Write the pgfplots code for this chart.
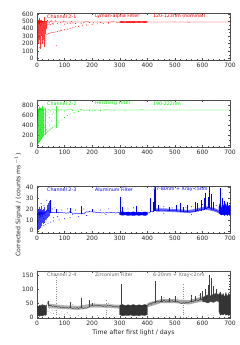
\documentclass[border=0pt]{standalone}
\usepackage{fontspec}
\setmainfont{DejaVu Sans}
\usepackage{pgfplots}
\pgfplotsset{compat=1.18}
\definecolor{idlred}{RGB}{255,0,0}
\definecolor{idlgreen}{RGB}{0,235,0}
\definecolor{idlblue}{RGB}{0,0,255}
\pgfplotsset{
  idl/.style={
    scale only axis, width=193pt, height=47pt,
    xmin=0, xmax=700, xtick={0,100,...,700}, minor x tick num=4,
    axis line style={black!70, line width=0.4pt},
    tick style={black!70, line width=0.3pt},
    major tick length=2.2pt, minor tick length=1.3pt,
    ticklabel style={font=\fontsize{6}{7}\selectfont, text=black!85},
    /pgf/number format/assume math mode=true,
    unbounded coords=jump, clip=true,
    every axis plot/.append style={line width=0.3pt},
  },
  dots/.style={only marks, mark=*, mark size=0.22pt},
  spikes/.style={line width=0.15pt, draw opacity=0.75},
}
\tikzset{intext/.style={anchor=west, font=\fontsize{4.8}{5}\selectfont, inner sep=0pt}}
\begin{document}
\begin{tikzpicture}
\useasboundingbox (0,0) rectangle (240pt,345pt);
% ---------------- Panel 1 ----------------
\begin{axis}[idl, at={(37pt,285pt)}, anchor=south west,
  ymin=-22, ymax=612, ytick={0,100,...,600}, minor y tick num=1]
\addplot[idlred, fill=idlred, draw=idlred] coordinates {(300,497)(310,500)(320,496)(330,500)(340,497)(350,500)(360,496)(370,500)(380,497)(390,500)(400,496)(400,484)(390,482)(380,485)(370,482)(360,485)(350,482)(340,484)(330,481)(320,485)(310,482)(300,486)} -- cycle;
\addplot[idlred] coordinates {(0,0)(1,60)(2,180)(3,330)(4,450)(5,500)(6,470)(7,520)(8,480)(9,510)(10,470)(11,500)(12,485)(14,505)(16,480)(18,500)(20,490)(22,505)(25,485)(28,500)(30,490)(35,495)(40,490)(50,496)(60,490)(70,494)(80,490)(100,493)(120,489)(140,492)(160,490)(180,493)(200,490)(220,492)(250,490)(280,493)(300,488)(400,490)(420,491)(450,490)(500,492)(550,489)(600,491)(650,490)(700,491)};
\addplot[idlred, spikes] coordinates {(2,100)(2,480)(2,nan)(4,200)(4,520)(4,nan)(6,250)(6,540)(6,nan)(8,300)(8,530)(8,nan)(10,220)(10,520)(10,nan)(12,130)(12,490)(12,nan)(14,300)(14,520)(14,nan)(16,350)(16,510)(16,nan)(18,280)(18,505)(18,nan)(20,200)(20,490)(20,nan)(22,250)(22,500)(22,nan)(24,300)(24,510)(24,nan)(27,150)(27,560)(27,nan)(30,330)(30,500)(30,nan)(34,400)(34,500)};
\addplot[idlred] coordinates {(35,320)(40,332)(45,338)(50,344)(55,348)(60,352)(65,355)(70,358)};
\addplot[idlred, dots] coordinates {(75,362)(80,368)(85,372)(90,378)(100,385)(110,395)(120,405)(130,415)(140,425)(150,432)(165,440)(180,450)(200,458)(220,465)(240,470)(260,475)(70,170)(15,450)(25,470)(45,480)(55,470)(85,480)(110,475)(140,470)(170,480)(205,478)(230,485)(260,482)(290,485)(330,480)(20,380)(22,300)(18,250)(12,200)(8,150)(25,420)(30,440)(40,460)(50,455)(60,465)(75,470)(100,462)(120,470)(130,478)(160,472)(190,484)(38,510)(52,505)(66,508)(95,503)(125,500)(3,250)(5,350)(7,420)(9,300)(11,380)(13,440)(15,330)(17,400)};
\node[intext, text=idlred] at (rel axis cs:0.052,0.93) {Channel 2-1};
\node[intext, text=idlred] at (rel axis cs:0.30,0.93) {Lyman-alpha Filter};
\node[intext, text=idlred] at (rel axis cs:0.60,0.93) {120-123nm (nominal)};
\end{axis}
% ---------------- Panel 2 ----------------
\begin{axis}[idl, at={(37pt,198pt)}, anchor=south west,
  ymin=-40, ymax=900, ytick={0,200,...,800}, minor y tick num=1]
\addplot[idlgreen] coordinates {(0,0)(1,100)(2,250)(3,420)(4,580)(5,700)(6,660)(7,740)(8,690)(9,720)(10,700)(12,730)(14,690)(16,715)(18,700)(20,720)(22,690)(25,710)(28,700)(30,705)(35,698)(40,703)(50,700)(60,705)(70,698)(80,704)(100,700)(120,705)(140,698)(160,703)(180,697)(200,702)(220,698)(250,703)(280,697)(300,702)(320,697)(340,702)(360,698)(380,703)(400,699)(450,702)(500,700)(550,701)(600,699)(650,701)(700,700)};
\addplot[idlgreen, spikes] coordinates {(3,30)(3,720)(3,nan)(7,60)(7,750)(7,nan)(11,90)(11,730)(11,nan)(15,120)(15,740)(15,nan)(19,150)(19,750)(19,nan)(23,180)(23,720)(23,nan)(28,200)(28,745)(28,nan)(70,330)(70,770)};
\addplot[idlgreen] coordinates {(0,0)(5,40)(10,80)(15,120)(20,160)(25,200)(30,220)(34,240)(38,262)(42,282)(46,300)(50,320)(55,340)(60,360)};
\addplot[idlgreen, dots] coordinates {(65,380)(70,400)(80,450)(90,500)(100,550)(110,590)(120,620)(135,650)(150,670)(170,685)(190,690)(210,695)(5,300)(8,500)(12,400)(15,600)(18,350)(22,550)(25,450)(28,620)(32,500)(36,600)(40,650)(45,550)(50,680)(55,620)(60,660)(80,690)(100,680)(130,690)(160,710)(200,680)(230,690)(3,800)(10,780)(20,770)(9,200)(13,300)(17,250)(21,420)(26,350)(31,400)(35,300)(40,450)(45,400)(52,480)};
\node[intext, text=idlgreen] at (rel axis cs:0.052,0.93) {Channel 2-2};
\node[intext, text=idlgreen] at (rel axis cs:0.30,0.93) {Herzberg Filter};
\node[intext, text=idlgreen] at (rel axis cs:0.60,0.93) {190-222nm};
\end{axis}
% ---------------- Panel 3 ----------------
\begin{axis}[idl, at={(37pt,112pt)}, anchor=south west,
  ymin=-2, ymax=41, ytick={0,10,...,40}, minor y tick num=1]
\addplot[idlblue, fill=idlblue] coordinates {(300,17)(310,17.5)(320,16.8)(330,17.3)(340,16.9)(350,17.4)(360,16.8)(370,17.2)(380,16.9)(390,17.3)(400,17)(400,14.5)(390,14)(380,14.6)(370,14.1)(360,14.5)(350,14)(340,14.4)(330,14.1)(320,14.6)(310,14.2)(300,14.8)} -- cycle;
\addplot[idlblue, fill=idlblue] coordinates {(660,22)(665,26)(670,20)(675,24)(680,21)(685,25)(690,20)(695,23)(700,21)(700,14)(695,15)(690,14)(685,15.5)(680,14)(675,15)(670,14.5)(665,15)(660,16)} -- cycle;
\addplot[idlblue!55, fill=idlblue!55, draw=none] coordinates {(430,20.5)(460,20.6)(490,20)(520,19.6)(550,19)(580,20.5)(610,22.5)(640,21.2)(660,19)(660,16)(640,18)(610,19.5)(580,17.5)(550,16.2)(520,16.8)(490,17.2)(460,17.6)(430,17.5)} -- cycle;
\addplot[idlblue, line width=0.4pt] coordinates {(0,3)(2,10)(4,15)(6,18)(8,14)(10,17)(12,13)(14,18)(16,15)(18,17)(20,14)(22,18)(25,15)(28,17)(30,16)(35,18)(40,20)(45,17)(50,17.5)(55,16.5)(60,17)(65,16.8)(70,17.2)(75,16.5)(80,17)(85,16.6)(90,16.8)(95,16.4)(100,16.6)(105,16)(110,16.5)(115,16.2)(120,18)(125,16.5)(130,16)(135,16.3)(140,15.8)(145,16.2)(150,15.7)(155,16)(160,15.5)(165,16)(170,15.4)(175,16.8)(180,17.5)(185,17)(190,17.8)(195,17.2)(200,17.5)(205,17)(210,17.3)(215,16.8)(220,17)(225,16.5)(230,16.8)(235,16.3)(240,16.6)(245,16.2)(250,16.5)(255,16.8)(260,16.3)(265,16.6)(270,16.9)(275,16.4)(280,16.7)(285,16.2)(290,16.5)(295,16.8)(300,16)(400,16)(405,16.5)(410,17)(415,18)(420,17.5)(425,18.5)(430,19)(435,18.5)(440,19)(445,18.7)(450,19.2)(455,18.8)(460,19)(465,18.6)(470,19.1)(475,18.5)(480,19)(485,18.6)(490,18.3)(495,18.8)(500,18.5)(505,18)(510,18.4)(515,17.8)(520,18.2)(525,17.5)(530,17.9)(535,17.3)(540,17.8)(545,17.2)(550,17.6)(555,17)(560,17.5)(565,17.2)(570,18)(575,17.5)(580,19)(585,18)(590,19.5)(595,18.5)(600,20)(605,19)(610,21)(615,20)(620,22)(625,21)(630,20)(635,19)(640,19.5)(645,18.5)(650,19)(655,18)(660,17)};
\addplot[idlblue, spikes] coordinates {(2,1)(2,16)(2,nan)(4,1)(4,20)(4,nan)(6,2)(6,22)(6,nan)(8,3)(8,18)(8,nan)(10,3)(10,17)(10,nan)(12,6)(12,20)(12,nan)(14,4)(14,23)(14,nan)(17,7)(17,19)(17,nan)(20,8)(20,18)(20,nan)(23,6)(23,20)(23,nan)(26,7)(26,22)(26,nan)(29,10)(29,18)(29,nan)(32,11)(32,19)(32,nan)(36,12)(36,24)(36,nan)(40,13)(40,25)(40,nan)(45,14)(45,27)};
\addplot[idlblue] coordinates {(48,16)(48,28)(48,nan)(70,16)(70,20)(70,nan)(120,16)(120,21)(120,nan)(160,15)(160,23)(160,nan)(200,17)(200,20)(200,nan)(300,15)(300,31)(300,nan)(310,15)(310,22)(310,nan)(360,16)(360,23)(360,nan)(410,17)(410,30)(410,nan)(420,17)(420,26)(420,nan)(425,18)(425,37)(425,nan)(430,18)(430,40)(430,nan)(440,18)(440,24)(440,nan)(480,18)(480,22)(480,nan)(505,18)(505,24)(505,nan)(520,17)(520,25)(520,nan)(530,17)(530,22)(530,nan)(545,17)(545,24)(545,nan)(575,17)(575,26)(575,nan)(580,18)(580,25)(580,nan)(595,18)(595,28)(595,nan)(605,19)(605,30)(605,nan)(610,20)(610,35)(610,nan)(620,21)(620,31)(620,nan)(625,21)(625,40)(625,nan)(630,20)(630,34)(630,nan)(640,19)(640,26)(640,nan)(665,18)(665,39)(665,nan)(670,17)(670,30)(670,nan)(680,18)(680,27)(680,nan)(690,17)(690,26)(690,nan)(698,16)(698,24)};
\addplot[idlblue, dots] coordinates {(25,5)(30,6)(40,7)(50,8)(60,9)(80,10)(100,11)(120,12)(150,13)(180,14)(55,20)(65,21)(90,19)(110,20)(140,19)(170,20)(230,19)(260,20)(330,20)(350,21)(380,19)(460,22)(490,21)(540,21)(560,22)(600,24)(650,23)(15,25)(25,23)(35,28)(60,12)(75,13)(130,15)(250,15)(460,16)(560,15)(5,8)(9,12)(13,9)(18,13)(24,11)(30,14)(35,10)};
\node[intext, text=idlblue] at (rel axis cs:0.052,0.93) {Channel 2-3};
\node[intext, text=idlblue] at (rel axis cs:0.30,0.93) {Aluminum Filter};
\node[intext, text=idlblue] at (rel axis cs:0.60,0.93) {17-80nm + Xray<5nm};
\end{axis}
% ---------------- Panel 4 ----------------
\begin{axis}[idl, at={(37pt,27pt)}, anchor=south west,
  ymin=-4, ymax=166, ytick={0,50,100,150}, minor y tick num=4,
  xlabel={Time after first light / days},
  xlabel style={font=\fontsize{6.2}{7}\selectfont, text=black!85, yshift=3pt}]
\addplot[black!45, dotted] coordinates {(70,0)(70,150)(70,nan)(530,0)(530,120)(70,nan)(250,0)(250,60)};
\addplot[black!40, dots] coordinates {(40,20)(45,30)(50,15)(55,25)(60,12)(65,22)(80,10)(90,18)(100,8)(110,15)(120,6)(150,5)(180,4)(200,3)(220,5)(250,2)(270,4)(290,3)(420,3)(450,2)(470,4)(500,3)(520,2)(550,2)(580,4)(600,3)(620,5)(640,4)(130,45)(170,42)(210,50)(260,48)(460,70)(510,68)(560,70)(590,78)};
\addplot[black!30, fill=black!30, draw=none] coordinates {(40,48)(100,42)(150,40)(200,48)(250,46)(300,44)(300,30)(250,33)(200,34)(150,25)(100,28)(40,32)} -- cycle;
\addplot[black!35, fill=black!35, draw=none] coordinates {(400,50)(450,64)(500,64)(550,60)(600,74)(600,56)(550,45)(500,50)(450,50)(400,35)} -- cycle;
\addplot[black!80, fill=black!80] coordinates {(0,35)(3,40)(6,36)(9,42)(12,38)(15,44)(18,39)(21,45)(24,40)(27,43)(30,38)(33,42)(35,40)(35,10)(30,5)(25,8)(20,3)(15,6)(10,2)(5,5)(0,3)} -- cycle;
\addplot[black!80, fill=black!80] coordinates {(300,42)(310,45)(320,40)(330,44)(340,41)(350,45)(360,40)(370,44)(380,41)(390,45)(400,42)(400,8)(390,5)(380,7)(370,4)(360,6)(350,4)(340,7)(330,5)(320,6)(310,4)(300,8)} -- cycle;
\addplot[black!80, fill=black!80] coordinates {(660,80)(665,90)(670,75)(675,85)(680,70)(685,88)(690,72)(695,85)(700,78)(700,8)(695,5)(690,10)(685,6)(680,12)(675,7)(670,10)(665,6)(660,20)} -- cycle;
\addplot[black!75, fill=black!75] coordinates {(600,70)(610,75)(620,80)(630,76)(640,82)(650,85)(660,80)(660,55)(650,58)(640,52)(630,56)(620,50)(610,54)(600,55)} -- cycle;
\addplot[black!85] coordinates {(35,42)(40,55)(42,45)(45,40)(50,42)(55,38)(60,40)(65,36)(70,38)(75,35)(80,37)(85,34)(90,36)(95,33)(100,35)(105,32)(110,34)(115,31)(120,35)(125,32)(130,30)(135,33)(140,31)(145,34)(150,30)(155,33)(160,36)(165,32)(170,30)(175,33)(180,31)(185,34)(190,38)(195,40)(200,42)(205,39)(210,41)(215,43)(220,40)(225,42)(230,39)(235,41)(240,37)(245,40)(250,38)(255,41)(260,39)(265,42)(270,40)(275,37)(280,39)(285,36)(290,38)(295,35)(300,37)(400,42)(405,45)(410,48)(415,46)(420,52)(425,50)(430,58)(435,54)(440,56)(445,53)(450,58)(455,55)(460,60)(465,56)(470,58)(475,55)(480,60)(485,57)(490,59)(495,55)(500,57)(505,54)(510,56)(515,52)(520,50)(525,48)(530,52)(535,49)(540,53)(545,50)(550,52)(555,55)(560,57)(565,54)(570,58)(575,60)(580,62)(585,58)(590,64)(595,62)(600,66)(605,64)(610,70)(615,66)(620,74)(625,70)(630,72)(635,68)(640,75)(645,72)(650,78)(655,74)(660,76)};
\addplot[black!75] coordinates {(40,40)(40,58)(40,nan)(120,33)(120,55)(120,nan)(160,33)(160,70)(160,nan)(190,35)(190,60)(190,nan)(200,38)(200,52)(200,nan)(305,40)(305,120)(305,nan)(430,50)(430,130)(430,nan)(450,55)(450,75)(450,nan)(480,55)(480,70)(480,nan)(500,55)(500,75)(500,nan)(560,54)(560,80)(560,nan)(575,56)(575,75)(575,nan)(590,60)(590,85)(590,nan)(600,62)(600,95)(600,nan)(610,65)(610,100)(610,nan)(620,68)(620,115)(620,nan)(625,68)(625,150)(625,nan)(630,70)(630,140)(630,nan)(640,70)(640,110)(640,nan)(650,72)(650,100)};
\node[intext, text=black!60] at (rel axis cs:0.052,0.92) {Channel 2-4};
\node[intext, text=black!60] at (rel axis cs:0.30,0.92) {Zirconium Filter};
\node[intext, text=black!60] at (rel axis cs:0.60,0.92) {6-20nm + Xray<2nm};
\end{axis}
\node[rotate=90, font=\fontsize{6.2}{7}\selectfont, text=black!85] at (18pt,140pt) {Corrected Signal / (counts ms$^{-1}$)};
\end{tikzpicture}
\end{document}
